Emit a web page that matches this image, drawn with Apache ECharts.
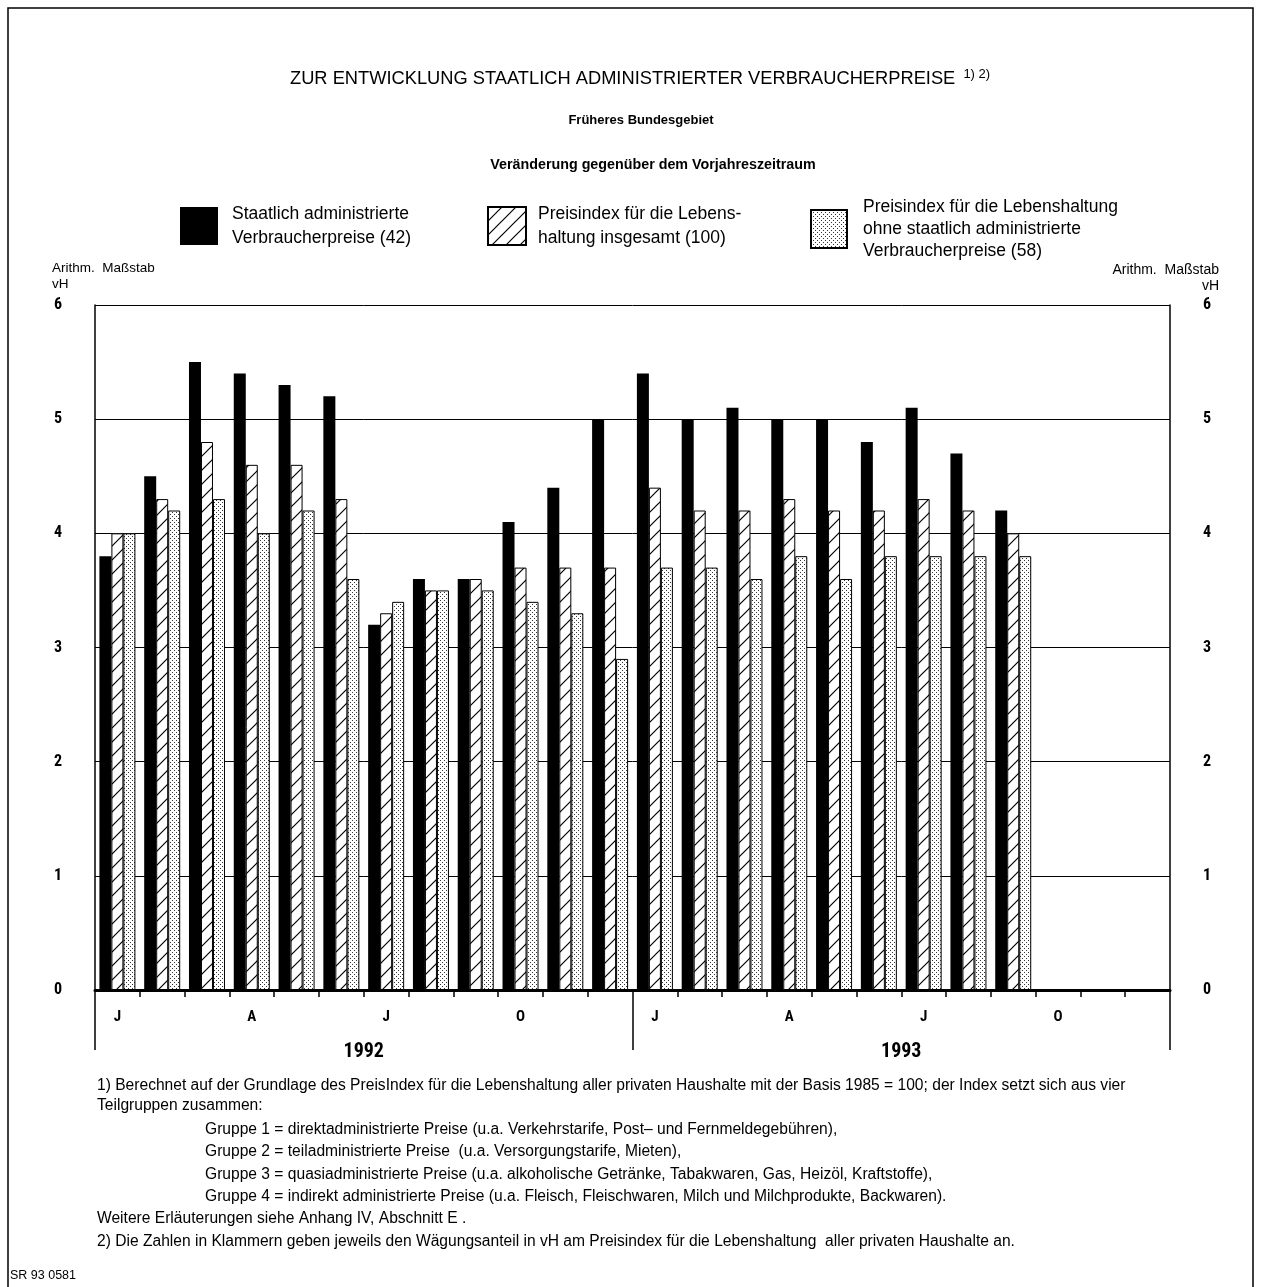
<!DOCTYPE html>
<html><head><meta charset="utf-8">
<script src="https://cdn.jsdelivr.net/npm/echarts@6/dist/echarts.min.js"></script>
<style>html,body{margin:0;padding:0;background:#fff}#c{width:1261px;height:1287px}</style>
</head><body><div id="c"></div>
<script>
// ---- data ----
const categories = ['1992-01','1992-02','1992-03','1992-04','1992-05','1992-06','1992-07','1992-08','1992-09','1992-10','1992-11','1992-12',
                    '1993-01','1993-02','1993-03','1993-04','1993-05','1993-06','1993-07','1993-08','1993-09','1993-10','1993-11','1993-12'];
const monthLetters = ['J','F','M','A','M','J','J','A','S','O','N','D','J','F','M','A','M','J','J','A','S','O','N','D'];
const years = ['1992','1993'];
const seriesNames = ['Staatlich administrierte\nVerbraucherpreise (42)',
                     'Preisindex für die Lebens-\nhaltung insgesamt (100)',
                     'Preisindex für die Lebenshaltung\nohne staatlich administrierte\nVerbraucherpreise (58)'];
const adminPrices = [3.8,4.5,5.5,5.4,5.3,5.2,3.2,3.6,3.6,4.1,4.4,5.0, 5.4,5.0,5.1,5.0,5.0,4.8,5.1,4.7,4.2,null,null,null];
const totalIndex  = [4.0,4.3,4.8,4.6,4.6,4.3,3.3,3.5,3.6,3.7,3.7,3.7, 4.4,4.2,4.2,4.3,4.2,4.2,4.3,4.2,4.0,null,null,null];
const otherIndex  = [4.0,4.2,4.3,4.0,4.2,3.6,3.4,3.5,3.5,3.4,3.3,2.9, 3.7,3.7,3.6,3.8,3.6,3.8,3.8,3.8,3.8,null,null,null];
const yMin = 0, yMax = 6, yStep = 1;

const footnotes = [
  ['1) Berechnet auf der Grundlage des PreisIndex für die Lebenshaltung aller privaten Haushalte mit der Basis 1985 = 100; der Index setzt sich aus vier', 97, 1086],
  ['Teilgruppen zusammen:', 97, 1106],
  ['Gruppe 1 = direktadministrierte Preise (u.a. Verkehrstarife, Post– und Fernmeldegebühren),', 205, 1130],
  ['Gruppe 2 = teiladministrierte Preise  (u.a. Versorgungstarife, Mieten),', 205, 1152],
  ['Gruppe 3 = quasiadministrierte Preise (u.a. alkoholische Getränke, Tabakwaren, Gas, Heizöl, Kraftstoffe),', 205, 1175],
  ['Gruppe 4 = indirekt administrierte Preise (u.a. Fleisch, Fleischwaren, Milch und Milchprodukte, Backwaren).', 205, 1197],
  ['Weitere Erläuterungen siehe Anhang IV, Abschnitt E .', 97, 1219],
  ['2) Die Zahlen in Klammern geben jeweils den Wägungsanteil in vH am Preisindex für die Lebenshaltung  aller privaten Haushalte an.', 97, 1242]
];

// ---- patterns ----
function hatchPattern(){
  const s = 14, c = document.createElement('canvas'); c.width = c.height = s;
  const g = c.getContext('2d'); g.fillStyle = '#fff'; g.fillRect(0,0,s,s);
  g.strokeStyle = '#000'; g.lineWidth = 1.2; g.beginPath();
  g.moveTo(0,s); g.lineTo(s,0); g.moveTo(-2,2); g.lineTo(2,-2); g.moveTo(s-2,s+2); g.lineTo(s+2,s-2);
  g.stroke();
  return {image: c, repeat: 'repeat'};
}
function dotPattern(){
  const c = document.createElement('canvas'); c.width = c.height = 4;
  const g = c.getContext('2d'); g.fillStyle = '#fff'; g.fillRect(0,0,4,4);
  g.fillStyle = '#333'; g.fillRect(0,0,1,1); g.fillRect(2,2,1,1);
  return {image: c, repeat: 'repeat'};
}

const F = "'Liberation Sans Narrow','Roboto Condensed','Liberation Sans',Arial,sans-serif";
const R = "'Liberation Sans',Arial,Helvetica,sans-serif";
const chart = echarts.init(document.getElementById('c'), null, {renderer: 'canvas'});

const graphic = [
  {type:'rect', shape:{x:8,y:8,width:1245,height:1300}, style:{fill:'none', stroke:'#000', lineWidth:1.5}, silent:true},
  {type:'text', x:641, y:120, style:{text:'Früheres Bundesgebiet', font:'bold 13px '+R, textAlign:'center', textVerticalAlign:'middle', fill:'#000'}},
  {type:'text', x:653, y:165, style:{text:'Veränderung gegenüber dem Vorjahreszeitraum', font:'bold 14.3px '+R, textAlign:'center', textVerticalAlign:'middle', fill:'#000'}},
  {type:'text', x:52, y:268, style:{text:'Arithm.  Maßstab', font:'13.5px '+R, textAlign:'left', textVerticalAlign:'middle', fill:'#000'}},
  {type:'text', x:52, y:284, style:{text:'vH', font:'13.5px '+R, textAlign:'left', textVerticalAlign:'middle', fill:'#000'}},
  {type:'text', x:1219, y:270, style:{text:'Arithm.  Maßstab', font:'14px '+R, textAlign:'right', textVerticalAlign:'middle', fill:'#000'}},
  {type:'text', x:1219, y:286, style:{text:'vH', font:'14px '+R, textAlign:'right', textVerticalAlign:'middle', fill:'#000'}},
  {type:'text', x:10, y:1276, style:{text:'SR 93 0581', font:'12.5px '+R, textAlign:'left', textVerticalAlign:'middle', fill:'#000'}}
];
footnotes.forEach(f => graphic.push({type:'text', x:f[1], y:f[2], style:{text:f[0], font:'15.6px '+R, textAlign:'left', textVerticalAlign:'middle', fill:'#000'}}));

const legendBase = {selectedMode:false, orient:'vertical', padding:0, itemWidth:38, itemHeight:38, icon:'rect',
  textStyle:{fontFamily:R, fontSize:17.5, lineHeight:24, color:'#000'}};

const option = {
  animation: false,
  backgroundColor: '#fff',
  title: [{
    text: 'ZUR ENTWICKLUNG STAATLICH ADMINISTRIERTER VERBRAUCHERPREISE {s|1) 2)}',
    left: 285, top: 63,
    textStyle: {fontFamily:R, fontSize:18.3, fontWeight:'normal', color:'#000',
      rich: {s: {fontFamily:R, fontSize:13, verticalAlign:'top', color:'#000', padding:[0,0,8,3]}}}
  }],
  legend: [
    Object.assign({}, legendBase, {data:[seriesNames[0]], left:180, top:199, textStyle:Object.assign({}, legendBase.textStyle, {padding:[6,0,0,9]})}),
    Object.assign({}, legendBase, {data:[seriesNames[1]], left:487, top:199, textStyle:Object.assign({}, legendBase.textStyle, {padding:[6,0,0,7]})}),
    Object.assign({}, legendBase, {data:[seriesNames[2]], left:810, top:192, itemWidth:36, textStyle:Object.assign({}, legendBase.textStyle, {padding:[8,0,0,11], lineHeight:22})})
  ],
  grid: {left:95, right:91, top:305, bottom:297, containLabel:false},
  xAxis: [
    {type:'category', data:categories, position:'bottom', boundaryGap:true,
     axisLine:{lineStyle:{color:'#000', width:3}},
     axisTick:{show:true, interval:0, length:7, lineStyle:{color:'#000', width:1.5}},
     axisLabel:{interval:2, margin:20, fontFamily:F, fontSize:15, fontWeight:'bold', color:'#000',
       formatter:(v, i) => monthLetters[i]},
     splitLine:{show:false}},
    {type:'category', data:years, position:'bottom', offset:0, boundaryGap:true,
     axisLine:{show:false},
     axisTick:{show:true, interval:0, length:60, lineStyle:{color:'#000', width:1.5}},
     axisLabel:{margin:52, fontFamily:F, fontSize:20, fontWeight:'bold', color:'#000'},
     splitLine:{show:false}}
  ],
  yAxis: [
    {type:'value', min:yMin, max:yMax, interval:yStep, position:'left',
     axisLine:{show:true, lineStyle:{color:'#000', width:1.5}}, axisTick:{show:false},
     axisLabel:{margin:33, fontFamily:F, fontSize:16, fontWeight:'bold', color:'#000'},
     splitLine:{show:true, lineStyle:{color:'#000', width:1}}},
    {type:'value', min:yMin, max:yMax, interval:yStep, position:'right',
     axisLine:{show:true, lineStyle:{color:'#000', width:1.5}}, axisTick:{show:false},
     axisLabel:{margin:33, fontFamily:F, fontSize:16, fontWeight:'bold', color:'#000'},
     splitLine:{show:false}}
  ],
  series: [
    {name:seriesNames[0], type:'bar', data:adminPrices, barWidth:12, barGap:'0%',
     itemStyle:{color:'#000'}},
    {name:seriesNames[1], type:'bar', data:totalIndex, barWidth:12, barGap:'0%',
     itemStyle:{color:hatchPattern(), borderColor:'#000', borderWidth:1}},
    {name:seriesNames[2], type:'bar', data:otherIndex, barWidth:12, barGap:'0%',
     itemStyle:{color:dotPattern(), borderColor:'#000', borderWidth:1}}
  ],
  graphic: graphic
};
chart.setOption(option);
</script>
</body></html>
